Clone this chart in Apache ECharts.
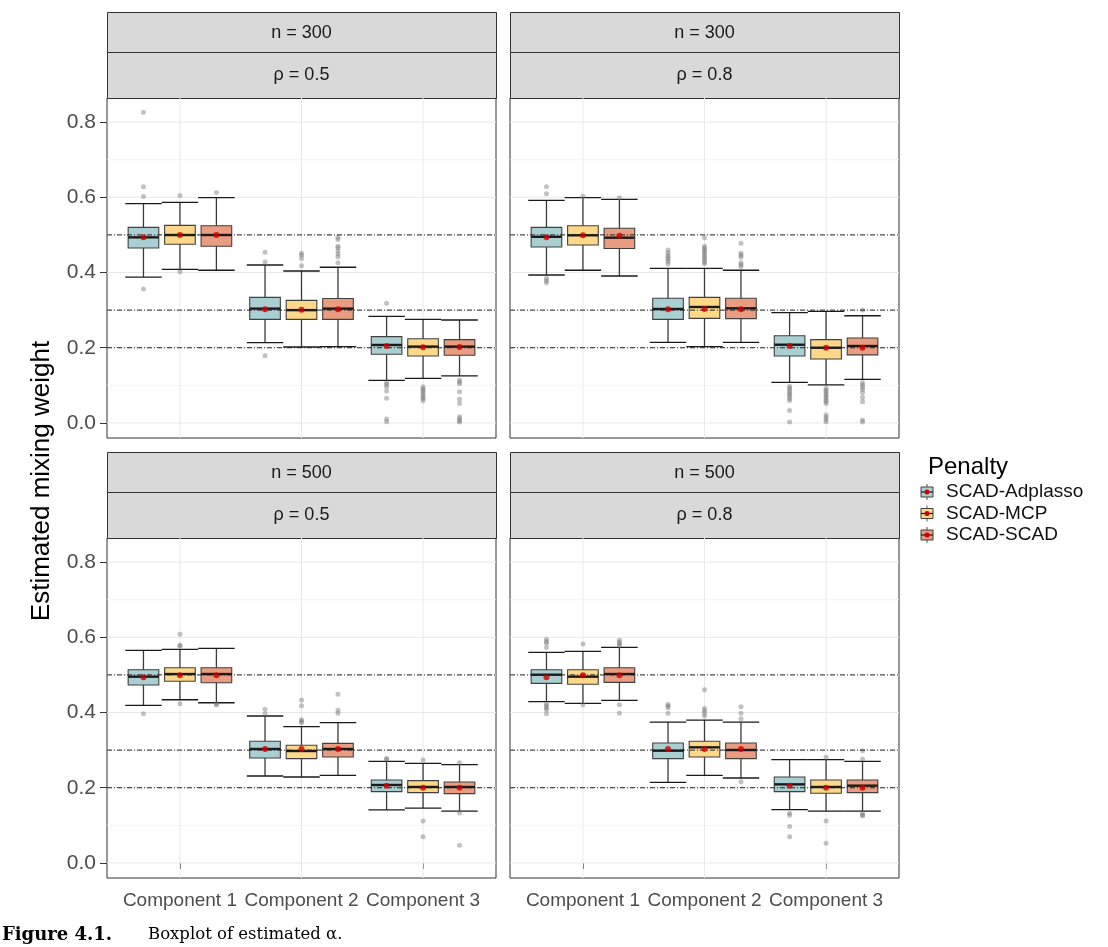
<!DOCTYPE html>
<html><head><meta charset="utf-8">
<script src="https://cdn.jsdelivr.net/npm/echarts@6/dist/echarts.min.js"></script>
<style>html,body{margin:0;padding:0;background:#fff}#c{width:1108px;height:947px}</style>
</head><body><div id="c"></div>
<script>
// ---------- data ----------
const categories = ['Component 1', 'Component 2', 'Component 3'];
const penalties = ['SCAD-Adplasso', 'SCAD-MCP', 'SCAD-SCAD'];
const stripTop = ['n = 300', 'n = 300', 'n = 500', 'n = 500'];
const stripBottom = ['\u03C1 = 0.5', '\u03C1 = 0.8', '\u03C1 = 0.5', '\u03C1 = 0.8'];
const yTicks = [0, 0.2, 0.4, 0.6, 0.8];
const yMinor = [0.1, 0.3, 0.5, 0.7];
const xTicks = [1, 2, 3];
const refLines = [0.2, 0.3, 0.5];

// box stats per component: [lower whisker, Q1, median, Q3, upper whisker]
// panel 1: n = 300, rho = 0.5
const p1AdpBox = [[0.388, 0.465, 0.4935, 0.520, 0.583], [0.2135, 0.2755, 0.304, 0.334, 0.420], [0.1134, 0.1825, 0.2073, 0.2295, 0.2835]];
const p1AdpMean = [0.494, 0.302, 0.2046];
const p1AdpOut = [[0.826, 0.628, 0.602, 0.356], [0.4536, 0.428, 0.179], [0.318, 0.107, 0.102, 0.0965, 0.085, 0.0655, 0.0106, 0.0035]];
const p1McpBox = [[0.4085, 0.475, 0.4997, 0.5254, 0.5866], [0.202, 0.2755, 0.300, 0.326, 0.404], [0.1187, 0.178, 0.203, 0.224, 0.2755]];
const p1McpMean = [0.4997, 0.301, 0.201];
const p1McpOut = [[0.605, 0.402], [0.451, 0.446, 0.437, 0.418], [0.0965, 0.091, 0.086, 0.081, 0.075, 0.070, 0.065, 0.059]];
const p1ScadBox = [[0.406, 0.470, 0.4997, 0.5245, 0.599], [0.203, 0.2755, 0.304, 0.331, 0.414], [0.125, 0.180, 0.203, 0.2215, 0.2738]];
const p1ScadMean = [0.4997, 0.302, 0.202];
const p1ScadOut = [[0.613], [0.4935, 0.488, 0.4696, 0.466, 0.457, 0.449, 0.442, 0.426], [0.114, 0.109, 0.104, 0.0833, 0.063, 0.052, 0.0168, 0.0115, 0.006, 0.0027]];

// panel 2: n = 300, rho = 0.8
const p2AdpBox = [[0.3934, 0.4678, 0.495, 0.520, 0.592], [0.2144, 0.2755, 0.303, 0.3314, 0.411], [0.108, 0.178, 0.208, 0.232, 0.2932]];
const p2AdpMean = [0.4935, 0.302, 0.2046];
const p2AdpOut = [[0.628, 0.6095, 0.3845, 0.378, 0.373], [0.4598, 0.4527, 0.4457, 0.4403, 0.435, 0.4297, 0.4226], [0.0974, 0.092, 0.087, 0.081, 0.076, 0.071, 0.065, 0.060, 0.0328, 0.0027]];
const p2McpBox = [[0.406, 0.473, 0.499, 0.5245, 0.599], [0.203, 0.278, 0.3083, 0.334, 0.411], [0.101, 0.170, 0.200, 0.2215, 0.2968]];
const p2McpMean = [0.499, 0.303, 0.200];
const p2McpOut = [[0.603], [0.4926, 0.4696, 0.465, 0.460, 0.455, 0.450, 0.444, 0.439, 0.434, 0.428, 0.423], [0.092, 0.087, 0.082, 0.077, 0.072, 0.067, 0.062, 0.057, 0.052, 0.021, 0.015, 0.009, 0.0035]];
const p2ScadBox = [[0.3907, 0.464, 0.4926, 0.5175, 0.5945], [0.2144, 0.2773, 0.3048, 0.3314, 0.406], [0.116, 0.181, 0.2046, 0.226, 0.285]];
const p2ScadMean = [0.498, 0.302, 0.200];
const p2ScadOut = [[0.5988], [0.4775, 0.451, 0.4457, 0.4403, 0.426, 0.4208, 0.4155], [0.300, 0.107, 0.101, 0.095, 0.089, 0.080, 0.068, 0.0566, 0.008, 0.0027]];

// panel 3: n = 500, rho = 0.5
const p3AdpBox = [[0.419, 0.473, 0.4953, 0.5138, 0.5652], [0.2312, 0.279, 0.303, 0.3234, 0.3907], [0.1409, 0.1896, 0.2073, 0.2206, 0.2703]];
const p3AdpMean = [0.494, 0.303, 0.2055];
const p3AdpOut = [[0.397], [0.409, 0.397], [0.278, 0.2756]];
const p3McpBox = [[0.434, 0.483, 0.5023, 0.519, 0.568], [0.2286, 0.2773, 0.2977, 0.3128, 0.3623], [0.146, 0.1869, 0.202, 0.2188, 0.265]];
const p3McpMean = [0.499, 0.303, 0.200];
const p3McpOut = [[0.6078, 0.5786, 0.577, 0.4234], [0.4332, 0.418, 0.381, 0.377, 0.373], [0.2738, 0.1116, 0.070]];
const p3ScadBox = [[0.426, 0.479, 0.5023, 0.519, 0.5705], [0.233, 0.2817, 0.303, 0.318, 0.373], [0.138, 0.1843, 0.202, 0.2153, 0.2613]];
const p3ScadMean = [0.499, 0.303, 0.200];
const p3ScadOut = [[0.4225, 0.420], [0.4484, 0.406, 0.398], [0.2667, 0.1329, 0.047]];

// panel 4: n = 500, rho = 0.8
const p4AdpBox = [[0.4288, 0.4775, 0.5005, 0.5138, 0.560], [0.2144, 0.2773, 0.2985, 0.319, 0.3747], [0.1418, 0.1896, 0.209, 0.2286, 0.2746]];
const p4AdpMean = [0.494, 0.303, 0.2055];
const p4AdpOut = [[0.5945, 0.589, 0.584, 0.573, 0.4234, 0.418, 0.4128, 0.4075, 0.397], [0.4216, 0.4172, 0.4128, 0.398], [0.132, 0.1268, 0.0966, 0.070]];
const p4McpBox = [[0.4243, 0.475, 0.4953, 0.5138, 0.5626], [0.233, 0.2817, 0.3074, 0.3234, 0.380], [0.138, 0.1852, 0.202, 0.2206, 0.2746]];
const p4McpMean = [0.499, 0.303, 0.200];
const p4McpOut = [[0.582, 0.4207], [0.4607, 0.411, 0.405, 0.398, 0.3907], [0.281, 0.1116, 0.0523]];
const p4ScadBox = [[0.4323, 0.4802, 0.5023, 0.519, 0.5733], [0.2259, 0.2773, 0.3003, 0.319, 0.3747], [0.138, 0.1869, 0.2055, 0.2206, 0.2703]];
const p4ScadMean = [0.499, 0.303, 0.200];
const p4ScadOut = [[0.592, 0.587, 0.582, 0.578, 0.4207, 0.398], [0.4154, 0.398, 0.3835, 0.216], [0.2985, 0.2764, 0.132, 0.1268, 0.1258]];

const panelBoxes = [[p1AdpBox, p1McpBox, p1ScadBox], [p2AdpBox, p2McpBox, p2ScadBox], [p3AdpBox, p3McpBox, p3ScadBox], [p4AdpBox, p4McpBox, p4ScadBox]];
const panelMeans = [[p1AdpMean, p1McpMean, p1ScadMean], [p2AdpMean, p2McpMean, p2ScadMean], [p3AdpMean, p3McpMean, p3ScadMean], [p4AdpMean, p4McpMean, p4ScadMean]];
const panelOuts = [[p1AdpOut, p1McpOut, p1ScadOut], [p2AdpOut, p2McpOut, p2ScadOut], [p3AdpOut, p3McpOut, p3ScadOut], [p4AdpOut, p4McpOut, p4ScadOut]];

// ---------- style / layout ----------
const FONT = "'Liberation Sans', Arial, Helvetica, sans-serif";
const fills = ['#a9cfd2', '#fdd889', '#e99c80'];
const dodge = [-0.3, 0, 0.3];
const BOX_HALF = 0.126, CAP_HALF = 0.15;
const PW = 389, PH = 340;
const layout = [{ left: 107, top: 98 }, { left: 510, top: 98 }, { left: 107, top: 538 }, { left: 510, top: 538 }];
const YMIN = -0.04, YMAX = 0.864, XMIN = 0.4, XMAX = 3.6;

const grids = [], xAxes = [], yAxes = [], series = [];
layout.forEach((p, i) => {
  const isBottom = i >= 2, isLeft = i % 2 === 0;
  grids.push({ left: p.left, top: p.top, width: PW, height: PH, show: true, borderColor: '#333', borderWidth: 1, backgroundColor: '#fff' });
  xAxes.push({
    type: 'value', gridIndex: i, min: XMIN, max: XMAX,
    axisLine: { show: false }, splitLine: { show: false },
    axisTick: { show: isBottom, customValues: xTicks, length: 6, lineStyle: { color: '#333', width: 1 } },
    axisLabel: { show: isBottom, customValues: xTicks, formatter: v => categories[Math.round(v) - 1], fontSize: 19, color: '#4d4d4d', fontFamily: FONT, margin: 13 }
  });
  yAxes.push({
    type: 'value', gridIndex: i, min: YMIN, max: YMAX,
    axisLine: { show: false }, splitLine: { show: false },
    axisTick: { show: isLeft, customValues: yTicks, length: 7, lineStyle: { color: '#333', width: 1 } },
    axisLabel: { show: isLeft, customValues: yTicks, formatter: v => v.toFixed(1), fontSize: 21, color: '#4d4d4d', fontFamily: FONT, margin: 11 }
  });

  // grid lines
  const gl = [];
  yMinor.forEach(v => gl.push([0, v, 0]));
  yTicks.forEach(v => gl.push([0, v, 1]));
  xTicks.forEach(v => gl.push([1, v, 1]));
  series.push({
    type: 'custom', xAxisIndex: i, yAxisIndex: i, z: 1, silent: true, animation: false,
    data: gl,
    renderItem: (params, api) => {
      const vert = api.value(0) === 1, v = api.value(1), major = api.value(2) === 1;
      const a = vert ? api.coord([v, YMIN]) : api.coord([XMIN, v]);
      const b = vert ? api.coord([v, YMAX]) : api.coord([XMAX, v]);
      return { type: 'line', shape: { x1: a[0], y1: a[1], x2: b[0], y2: b[1] }, style: { stroke: major ? '#e8e8e8' : '#f3f3f3', lineWidth: major ? 1 : 0.8 } };
    }
  });

  penalties.forEach((pen, k) => {
    const boxes = panelBoxes[i][k];
    series.push({
      type: 'custom', name: pen, xAxisIndex: i, yAxisIndex: i, z: 3, silent: true, animation: false,
      data: boxes.map((b, j) => [j + 1].concat(b)),
      encode: { x: 0, y: [1, 2, 3, 4, 5] },
      renderItem: (params, api) => {
        const x = api.value(0) + dodge[k];
        const pLo = api.coord([x, api.value(1)]), pQ1 = api.coord([x, api.value(2)]);
        const pMd = api.coord([x, api.value(3)]), pQ3 = api.coord([x, api.value(4)]);
        const pHi = api.coord([x, api.value(5)]);
        const half = api.size([BOX_HALF, 0])[0], cap = api.size([CAP_HALF, 0])[0];
        return {
          type: 'group', children: [
            { type: 'line', shape: { x1: pLo[0], y1: pLo[1], x2: pHi[0], y2: pHi[1] }, style: { stroke: '#3a3a3a', lineWidth: 1.3 } },
            { type: 'line', shape: { x1: pHi[0] - cap, y1: pHi[1], x2: pHi[0] + cap, y2: pHi[1] }, style: { stroke: '#1a1a1a', lineWidth: 1.3 } },
            { type: 'line', shape: { x1: pLo[0] - cap, y1: pLo[1], x2: pLo[0] + cap, y2: pLo[1] }, style: { stroke: '#1a1a1a', lineWidth: 1.3 } },
            { type: 'rect', shape: { x: pQ3[0] - half, y: pQ3[1], width: 2 * half, height: pQ1[1] - pQ3[1] }, style: { fill: fills[k], stroke: '#404040', lineWidth: 1.1 } },
            { type: 'line', shape: { x1: pMd[0] - half, y1: pMd[1], x2: pMd[0] + half, y2: pMd[1] }, style: { stroke: '#1a1a1a', lineWidth: 2.4 } }
          ]
        };
      }
    });
    // outliers
    const outs = [];
    panelOuts[i][k].forEach((arr, j) => arr.forEach(v => outs.push([j + 1 + dodge[k], v])));
    series.push({
      type: 'scatter', xAxisIndex: i, yAxisIndex: i, z: 4, silent: true, animation: false,
      symbolSize: 5, data: outs, itemStyle: { color: 'rgba(115,115,115,0.55)' }
    });
  });

  // reference lines
  series.push({
    type: 'custom', xAxisIndex: i, yAxisIndex: i, z: 5, silent: true, animation: false,
    data: refLines.map(v => [v]),
    renderItem: (params, api) => {
      const a = api.coord([XMIN, api.value(0)]), b = api.coord([XMAX, api.value(0)]);
      return { type: 'line', shape: { x1: a[0], y1: a[1], x2: b[0], y2: b[1] }, style: { stroke: '#222', lineWidth: 1, lineDash: [5, 2, 1, 2] } };
    }
  });

  // means
  penalties.forEach((pen, k) => {
    series.push({
      type: 'scatter', xAxisIndex: i, yAxisIndex: i, z: 6, silent: true, animation: false,
      symbolSize: 6, data: panelMeans[i][k].map((m, j) => [j + 1 + dodge[k], m]),
      itemStyle: { color: '#d00000' }
    });
  });
});

// strips, titles, legend, caption
const graphics = [];
layout.forEach((p, i) => {
  const sTop = p.top - 86;
  graphics.push({ type: 'rect', left: p.left, top: sTop, shape: { width: PW, height: 40 }, style: { fill: '#d9d9d9', stroke: '#333', lineWidth: 1 }, silent: true });
  graphics.push({ type: 'rect', left: p.left, top: sTop + 40, shape: { width: PW, height: 46 }, style: { fill: '#d9d9d9', stroke: '#333', lineWidth: 1 }, silent: true });
  graphics.push({ type: 'text', x: p.left + PW / 2, y: sTop + 21, style: { text: stripTop[i], fill: '#1a1a1a', font: '18px ' + FONT, textAlign: 'center', textVerticalAlign: 'middle' }, silent: true });
  graphics.push({ type: 'text', x: p.left + PW / 2, y: sTop + 63, style: { text: stripBottom[i], fill: '#1a1a1a', font: '18px ' + FONT, textAlign: 'center', textVerticalAlign: 'middle' }, silent: true });
});
graphics.push({ type: 'text', x: 42, y: 481, rotation: Math.PI / 2, style: { text: 'Estimated mixing weight', fill: '#000', font: '26px ' + FONT, textAlign: 'center', textVerticalAlign: 'middle' }, silent: true });
graphics.push({ type: 'text', x: 928, y: 467, style: { text: 'Penalty', fill: '#000', font: '24px ' + FONT, textAlign: 'left', textVerticalAlign: 'middle' }, silent: true });
penalties.forEach((pen, k) => {
  const cy = 492 + k * 21.5, cx = 927;
  graphics.push({ type: 'line', shape: { x1: cx, y1: cy - 8, x2: cx, y2: cy + 8 }, style: { stroke: '#555', lineWidth: 1 }, silent: true });
  graphics.push({ type: 'rect', shape: { x: cx - 6, y: cy - 5, width: 12, height: 10 }, style: { fill: fills[k], stroke: '#404040', lineWidth: 1 }, silent: true });
  graphics.push({ type: 'line', shape: { x1: cx - 6, y1: cy, x2: cx + 6, y2: cy }, style: { stroke: '#1a1a1a', lineWidth: 1.2 }, silent: true });
  graphics.push({ type: 'circle', shape: { cx: cx, cy: cy, r: 2.5 }, style: { fill: '#d00000' }, silent: true });
  graphics.push({ type: 'text', x: 946, y: cy, style: { text: pen, fill: '#111', font: '19px ' + FONT, textAlign: 'left', textVerticalAlign: 'middle' }, silent: true });
});
graphics.push({ type: 'text', x: 2, y: 935, style: { text: 'Figure 4.1.', fill: '#000', font: 'bold 18px "DejaVu Serif", serif', textAlign: 'left', textVerticalAlign: 'middle' }, silent: true });
graphics.push({ type: 'text', x: 148, y: 935, style: { text: 'Boxplot of estimated \u03B1.', fill: '#000', font: '16.5px "DejaVu Serif", serif', textAlign: 'left', textVerticalAlign: 'middle' }, silent: true });

const chart = echarts.init(document.getElementById('c'), null, { renderer: 'canvas' });
chart.setOption({
  backgroundColor: '#fff',
  animation: false,
  grid: grids, xAxis: xAxes, yAxis: yAxes, series: series,
  graphic: graphics
});
</script></body></html>
